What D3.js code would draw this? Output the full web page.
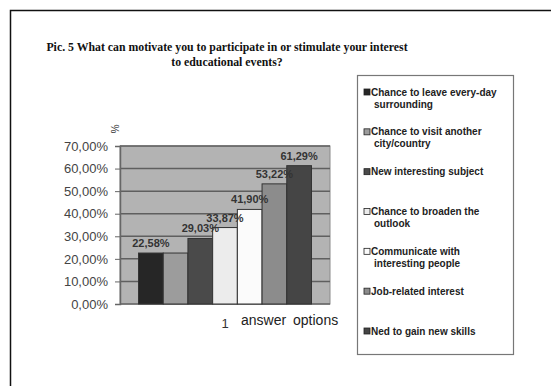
<!DOCTYPE html>
<html>
<head>
<meta charset="utf-8">
<script src="https://cdn.jsdelivr.net/npm/d3@7"></script>
<style>
  body { margin: 0; background: #fff; }
</style>
</head>
<body>
<div id="chart"></div>
<script>
// data
const categories = [
  "Chance to leave every-day surrounding",
  "Chance to visit another city/country",
  "New interesting subject",
  "Chance to broaden the outlook",
  "Communicate with interesting people",
  "Job-related interest",
  "Ned to gain new skills"
];
const values = [22.58, 22.58, 29.03, 33.87, 41.90, 53.22, 61.29];
const showLabel = [true, false, true, true, true, true, true];
const yTicks = [0, 10, 20, 30, 40, 50, 60, 70];
const legendLines = [
  ["Chance to leave every-day", "surrounding"],
  ["Chance to visit another", "city/country"],
  ["New interesting subject"],
  ["Chance to broaden the", "outlook"],
  ["Communicate with", "interesting people"],
  ["Job-related interest"],
  ["Ned to gain new skills"]
];
const colors = ["#262626", "#9c9c9c", "#4a4a4a", "#ececec", "#fbfbfb", "#8c8c8c", "#454545"];

const W = 551, H = 386;
const plot = {left: 120, top: 146, width: 210, height: 158};

const svg = d3.select("#chart").append("svg")
    .attr("width", W)
    .attr("height", H)
    .style("font-family", "'Liberation Sans', Arial, sans-serif");

// outer frame
svg.append("path")
    .attr("d", `M10.5,${H + 5} L10.5,10.5 L${W + 5},10.5`)
    .attr("fill", "none")
    .attr("stroke", "#111")
    .attr("stroke-width", 1.5);

// title
const title = svg.append("text")
    .attr("text-anchor", "middle")
    .style("font-family", "'Liberation Serif', 'Times New Roman', serif")
    .style("font-weight", "bold")
    .style("font-size", "11.8px")
    .attr("fill", "#111");
title.append("tspan").attr("x", 227).attr("y", 51)
    .text("Pic. 5 What can motivate you to participate in or stimulate your interest");
title.append("tspan").attr("x", 227).attr("y", 66)
    .text("to educational events?");

const g = svg.append("g")
    .attr("transform", `translate(${plot.left},${plot.top})`);

const x = d3.scaleBand()
    .domain(categories)
    .range([0, plot.width])
    .paddingInner(0)
    .paddingOuter(0.75);

const y = d3.scaleLinear()
    .domain([0, 70])
    .range([plot.height, 0]);

// plot background
g.append("rect")
    .attr("width", plot.width)
    .attr("height", plot.height)
    .attr("fill", "#b3b3b3")
    .attr("stroke", "#8a8a8a");

// gridlines
g.append("g")
    .selectAll("line")
    .data(yTicks.slice(1))
    .join("line")
    .attr("x1", 0)
    .attr("x2", plot.width)
    .attr("y1", d => y(d))
    .attr("y2", d => y(d))
    .attr("stroke", "#5f5f5f")
    .attr("stroke-width", 1.5);

// y axis
const yAxis = g.append("g")
    .call(d3.axisLeft(y)
        .tickValues(yTicks)
        .tickSize(5)
        .tickPadding(7)
        .tickFormat(d => d3.format(".2f")(d).replace(".", ",") + "%"));
yAxis.select(".domain").attr("stroke", "#666").attr("stroke-width", 1.5);
yAxis.selectAll(".tick line").attr("stroke", "#666");
yAxis.selectAll(".tick text")
    .style("font-size", "13px")
    .attr("fill", "#444");

// bottom axis line
g.append("line")
    .attr("x1", 0).attr("x2", plot.width)
    .attr("y1", plot.height).attr("y2", plot.height)
    .attr("stroke", "#666")
    .attr("stroke-width", 1.5);

// bars
g.append("g")
    .selectAll("rect")
    .data(values)
    .join("rect")
    .attr("x", (d, i) => x(categories[i]))
    .attr("y", d => y(d))
    .attr("width", x.bandwidth())
    .attr("height", d => plot.height - y(d))
    .attr("fill", (d, i) => colors[i])
    .attr("stroke", "#333")
    .attr("stroke-width", 1);

// value labels
g.append("g")
    .selectAll("text")
    .data(values.map((v, i) => ({v, i})).filter(d => showLabel[d.i]))
    .join("text")
    .attr("x", d => x(categories[d.i]) + x.bandwidth() / 2)
    .attr("y", d => y(d.v) - 6)
    .attr("text-anchor", "middle")
    .style("font-size", "11px")
    .style("font-weight", "bold")
    .attr("fill", "#333")
    .text(d => d3.format(".2f")(d.v).replace(".", ",") + "%");

// axis titles
svg.append("text")
    .attr("transform", "translate(114,129) rotate(90)")
    .attr("text-anchor", "middle")
    .attr("dominant-baseline", "middle")
    .style("font-size", "10px")
    .attr("fill", "#333")
    .text("%");

svg.append("text")
    .attr("x", 225).attr("y", 328)
    .attr("text-anchor", "middle")
    .style("font-size", "13px")
    .attr("fill", "#333")
    .text("1");

svg.append("text")
    .attr("x", 241).attr("y", 325)
    .style("font-size", "14px")
    .style("word-spacing", "3px")
    .attr("fill", "#222")
    .text("answer options");

// legend
const legend = svg.append("g");
legend.append("rect")
    .attr("x", 357.5).attr("y", 75.5)
    .attr("width", 156).attr("height", 279)
    .attr("fill", "#fff")
    .attr("stroke", "#777")
    .attr("stroke-width", 1.2);

const itemY = d3.scalePoint()
    .domain(d3.range(categories.length))
    .range([92, 331]);

const items = legend.selectAll("g.item")
    .data(legendLines)
    .join("g")
    .attr("class", "item")
    .attr("transform", (d, i) => `translate(0,${itemY(i)})`);

items.append("rect")
    .attr("x", 364).attr("y", -3)
    .attr("width", 6).attr("height", 6)
    .attr("fill", (d, i) => colors[i])
    .attr("stroke", "#222")
    .attr("stroke-width", 0.8);

items.each(function(lines) {
    const t = d3.select(this).append("text")
        .style("font-size", "10px")
        .style("font-weight", "bold")
        .attr("fill", "#222");
    lines.forEach((line, k) => {
        t.append("tspan")
            .attr("x", k === 0 ? 371 : 374)
            .attr("y", 3.5 + k * 12)
            .text(line);
    });
});
</script>
</body>
</html>
